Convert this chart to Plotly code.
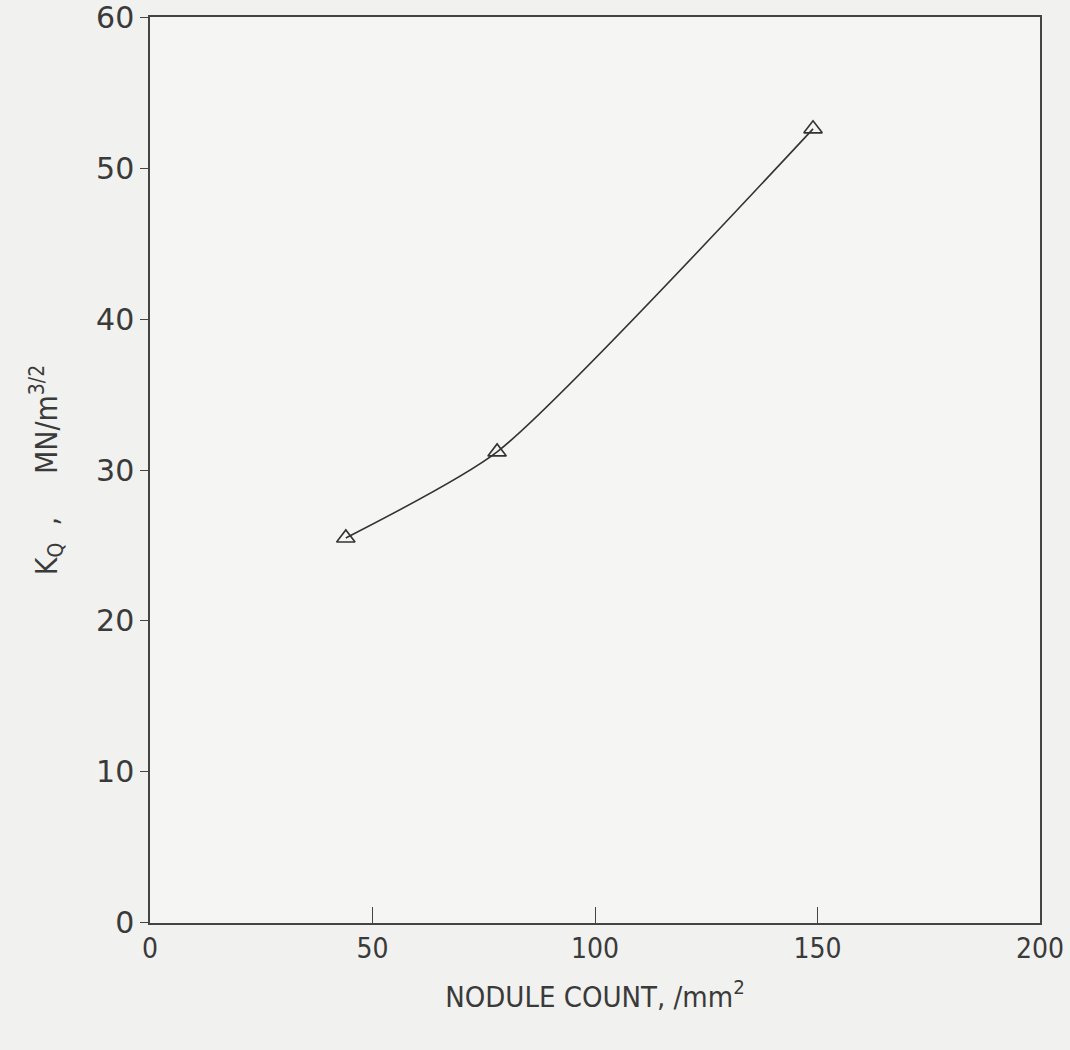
import plotly.graph_objects as go

nodule_count = [44, 78, 149]
kq_values = [25.5, 31.2, 52.6]
x_ticks = [0, 50, 100, 150, 200]
y_ticks = [0, 10, 20, 30, 40, 50, 60]

fig = go.Figure()
fig.add_trace(go.Scatter(
    x=nodule_count, y=kq_values,
    mode="lines+markers",
    line=dict(color="#333333", width=1.6, shape="spline", smoothing=0.6),
    marker=dict(symbol="triangle-up-open", size=16, color="#333333", line=dict(width=1.6)),
    showlegend=False,
))

fig.update_layout(
    width=1070, height=1050,
    margin=dict(l=150, r=30, t=17, b=127, autoexpand=False),
    paper_bgcolor="#f1f1ef",
    plot_bgcolor="#f5f5f3",
    font=dict(family="DejaVu Sans", color="#3a3a3a"),
)
fig.update_xaxes(
    range=[-0.01, 200.01], tickvals=x_ticks, automargin=False,
    ticklabeloverflow="allow",
    showgrid=False, zeroline=False,
    showline=True, linecolor="#444444", linewidth=1.5, mirror=True,
    ticks="inside", ticklen=16, tickcolor="#444444", tickwidth=1.3,
    tickfont=dict(size=28, family="DejaVu Sans Condensed"),
    title=dict(text="NODULE COUNT, /mm<sup>2</sup>", font=dict(size=29, family="DejaVu Sans Condensed"), standoff=22),
)
fig.update_yaxes(
    range=[-0.01, 60.01], tickvals=y_ticks, automargin=False,
    ticklabeloverflow="allow",
    showgrid=False, zeroline=False,
    showline=True, linecolor="#444444", linewidth=1.5, mirror=True,
    ticks="outside", ticklen=8, tickcolor="#444444", tickwidth=1.3,
    tickfont=dict(size=30, family="DejaVu Sans"),
    title=dict(text="K<sub>Q</sub>  ,     MN/m<sup>3/2</sup>", font=dict(size=30, family="DejaVu Sans Condensed"), standoff=30),
)

fig.write_html("out.html")
